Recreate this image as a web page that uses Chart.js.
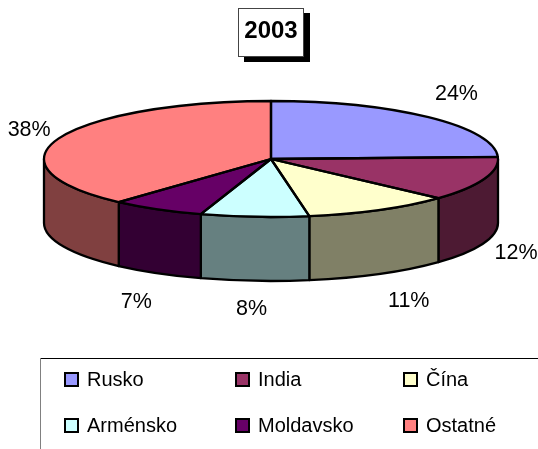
<!DOCTYPE html>
<html><head><meta charset="utf-8">
<style>html,body{margin:0;padding:0;background:#fff;overflow:hidden}canvas{display:block}</style>
<script src="https://cdn.jsdelivr.net/npm/chart.js@4"></script>
</head><body><canvas id="c" width="538" height="449"></canvas>
<script>
const chartTitle = '2003';
const categories = ['Rusko','India','Čína','Arménsko','Moldavsko','Ostatné'];
const shares = [24.4,12.4,10.5,7.7,6.7,38.3];
const topColors = ['#9999FF','#993366','#FFFFCC','#CCFFFF','#660066','#FF8080'];
const wallColors = ['#4D4D80','#4D1A33','#808066','#668080','#330033','#804040'];

// layout constants
const RX = 227, RY = 58, DEPTH = 64, FONT = '"Liberation Sans", Arial, sans-serif';
const labelOffsets = [[28,-23],[32,74],[29,91],[-3,92],[-21,93],[-30,-8]];
const legendCols = [65,236,404], legendRows = [380,426];

const threeD = {
  id:'threeD',
  beforeDatasetsDraw(chart){
    const ctx = chart.ctx, arcs = chart.getDatasetMeta(0).data;
    ctx.save();
    ctx.lineWidth = 2.3; ctx.strokeStyle = '#000'; ctx.lineJoin = 'round';
    arcs.forEach((a,i)=>{
      const s = Math.max(a.startAngle,0), e = Math.min(a.endAngle,Math.PI);
      if (e <= s) return;
      ctx.beginPath();
      ctx.ellipse(a.x,a.y,RX,RY,0,s,e);
      ctx.lineTo(a.x+RX*Math.cos(e),a.y+RY*Math.sin(e)+DEPTH);
      ctx.ellipse(a.x,a.y+DEPTH,RX,RY,0,e,s,true);
      ctx.closePath();
      ctx.fillStyle = wallColors[i];
      ctx.fill(); ctx.stroke();
    });
    ctx.restore();
    const c = arcs[0];
    ctx.save();
    ctx.translate(c.x,c.y); ctx.scale(1,RY/RX); ctx.translate(-c.x,-c.y);
  },
  afterDatasetsDraw(chart){
    const ctx = chart.ctx, arcs = chart.getDatasetMeta(0).data;
    ctx.restore();
    ctx.save();
    ctx.lineWidth = 2.3; ctx.strokeStyle = '#000'; ctx.lineJoin = 'round';
    arcs.forEach(a=>{
      ctx.beginPath();
      ctx.moveTo(a.x,a.y);
      ctx.ellipse(a.x,a.y,RX,RY,0,a.startAngle,a.endAngle);
      ctx.closePath();
      ctx.stroke();
    });
    ctx.restore();
  },
  beforeDraw(chart){
    const ctx = chart.ctx;
    ctx.save();
    ctx.fillStyle = '#000'; ctx.fillRect(244,13,66,49);
    ctx.fillStyle = '#fff'; ctx.fillRect(238,8,66,49);
    ctx.strokeStyle = '#444'; ctx.lineWidth = 1; ctx.strokeRect(238.5,8.5,65,48);
    ctx.restore();
  },
  afterDraw(chart){
    const ctx = chart.ctx, arcs = chart.getDatasetMeta(0).data;
    ctx.save();
    ctx.fillStyle = '#000'; ctx.textAlign = 'center'; ctx.textBaseline = 'middle';
    ctx.font = '21.5px '+FONT;
    arcs.forEach((a,i)=>{
      const m = (a.startAngle+a.endAngle)/2;
      ctx.fillText(Math.round(shares[i])+'%',
        a.x+RX*Math.cos(m)+labelOffsets[i][0],
        a.y+RY*Math.sin(m)+labelOffsets[i][1]);
    });
    // legend frame (runs off the right and bottom edges)
    ctx.fillStyle = '#000'; ctx.fillRect(40,358,498,1);
    ctx.fillStyle = '#808080'; ctx.fillRect(40,358,1,91);
    ctx.textAlign = 'left';
    ctx.font = '20px '+FONT;
    categories.forEach((name,i)=>{
      const x = legendCols[i%3], y = legendRows[Math.floor(i/3)];
      ctx.fillStyle = topColors[i];
      ctx.fillRect(x,y-7,13,13);
      ctx.strokeStyle = '#000'; ctx.lineWidth = 2;
      ctx.strokeRect(x,y-7,13,13);
      ctx.fillStyle = '#000';
      ctx.fillText(name,x+22,y);
    });
    ctx.restore();
  }
};

new Chart(document.getElementById('c'),{
  type:'pie',
  data:{labels:categories,datasets:[{data:shares,backgroundColor:topColors,borderWidth:0,clip:false}]},
  options:{
    responsive:false,animation:false,radius:RX,
    events:[],
    layout:{padding:{top:0,left:4,right:0,bottom:176.4}},
    plugins:{
      legend:{display:false},tooltip:{enabled:false},
      title:{display:true,text:chartTitle,color:'#000',
        font:{family:FONT,size:24,weight:'bold'},padding:{top:16.6,bottom:0}}
    }
  },
  plugins:[threeD]
});
</script></body></html>
